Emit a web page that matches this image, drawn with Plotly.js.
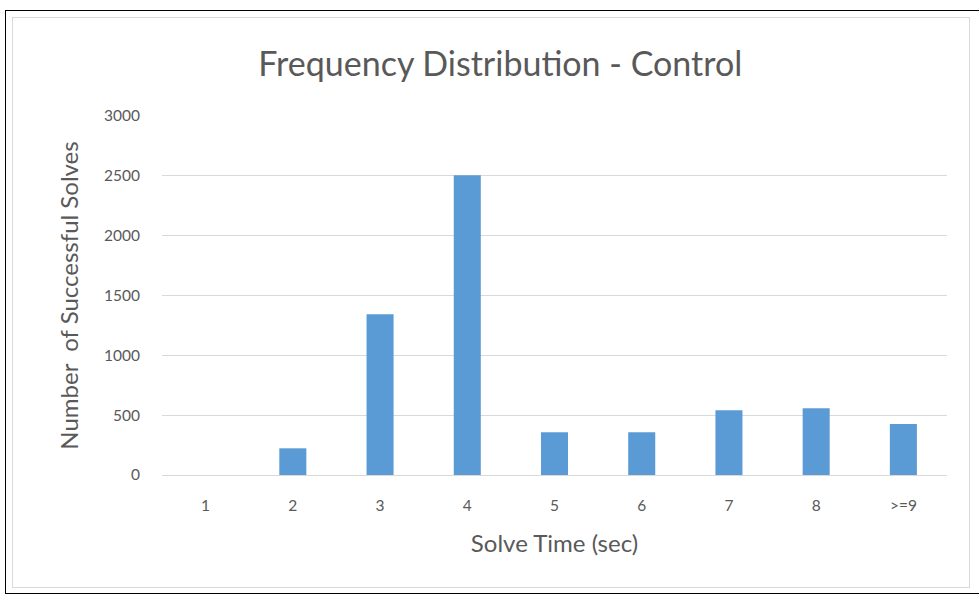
<!DOCTYPE html>
<html>
<head>
<meta charset="utf-8">
<script src="https://cdn.plot.ly/plotly-3.0.1.min.js"></script>
<style>
html,body{margin:0;padding:0;background:#fff;}
#wrap{position:relative;width:979px;height:597px;overflow:hidden;}
#outer{position:absolute;left:5px;top:10px;width:980px;height:584px;border:1px solid #000;box-sizing:border-box;pointer-events:none;}
#inner{position:absolute;left:12px;top:17px;width:958px;height:571px;border:1px solid #d9d9d9;box-sizing:border-box;pointer-events:none;}
#chart{position:absolute;left:0;top:0;width:979px;height:597px;}
</style>
</head>
<body>
<div id="wrap">
<div id="outer"></div>
<div id="inner"></div>
<div id="chart"></div>
</div>
<script>
const categories = ["1","2","3","4","5","6","7","8",">=9"];
const solves = [0, 223, 1343, 2505, 357, 357, 541, 557, 426];
const yTicks = [0, 500, 1000, 1500, 2000, 2500, 3000];

const font = "Lato, 'Open Sans', sans-serif";
Plotly.newPlot('chart', [{
  type: 'bar',
  x: categories,
  y: solves,
  marker: {color: '#5b9bd5', line: {width: 0}},
  hoverinfo: 'x+y'
}], {
  width: 979, height: 597,
  paper_bgcolor: 'rgba(0,0,0,0)',
  plot_bgcolor: 'rgba(0,0,0,0)',
  margin: {l: 162, r: 32, t: 116, b: 122},
  bargap: 0.69,
  showlegend: false,
  title: {text: 'Frequency Distribution - Control', font: {family: font, size: 34, color: '#595959'}, x: 0.511, xanchor: 'center', y: 0.893, yanchor: 'middle'},
  xaxis: {
    type: 'category',
    tickfont: {family: font, size: 15.5, color: '#595959'},
    showgrid: false, zeroline: false, showline: false, ticks: '',
    ticklabelstandoff: 19,
    title: {text: 'Solve Time (sec)', font: {family: font, size: 24, color: '#595959'}, standoff: 22}
  },
  yaxis: {
    range: [0, 3000],
    tickvals: yTicks,
    tickfont: {family: font, size: 15.5, color: '#595959'},
    gridcolor: '#d9d9d9', gridwidth: 1,
    zeroline: true, zerolinecolor: '#d9d9d9', zerolinewidth: 1,
    showline: false, ticks: '',
    ticklabelstandoff: 21,
    title: {text: 'Number  of Successful Solves', font: {family: font, size: 24, color: '#595959'}, standoff: 18}
  }
}, {displayModeBar: false});
</script>
</body>
</html>
